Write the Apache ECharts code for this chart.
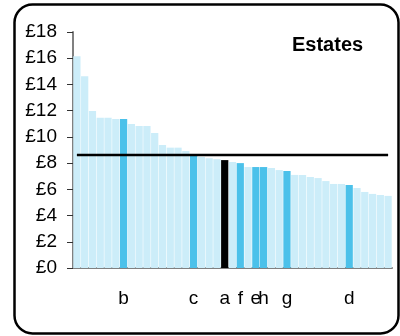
<!DOCTYPE html>
<html>
<head>
<meta charset="utf-8">
<script src="https://cdn.jsdelivr.net/npm/echarts@6/dist/echarts.min.js"></script>
<style>html,body{margin:0;padding:0;background:#fff;}#c{width:400px;height:336px;}</style>
</head>
<body>
<div id="c"></div>
<script>
// Category labels (only some bars are named)
const categories = ['', '', '', '', '', '', 'b', '', '', '', '', '', '', '', '', 'c', '', '', '', 'a', '', 'f', '', 'e', 'h', '', '', 'g', '', '', '', '', '', '', '', 'd', '', '', '', '', ''];
// Bar values (£)
const values = [16.15, 14.63, 11.97, 11.46, 11.46, 11.36, 11.36, 10.98, 10.83, 10.83, 10.29, 9.38, 9.18, 9.18, 8.92, 8.65, 8.47, 8.37, 8.30, 8.23, 8.08, 8.00, 7.70, 7.70, 7.70, 7.62, 7.47, 7.40, 7.10, 7.10, 6.94, 6.86, 6.63, 6.41, 6.41, 6.33, 6.10, 5.80, 5.65, 5.57, 5.50];
// Reference line value (£)
const average = 8.62;
const yTicks = [0, 2, 4, 6, 8, 10, 12, 14, 16, 18];
const title = 'Estates';

const chart = echarts.init(document.getElementById('c'), null, {renderer: 'canvas'});
const barData = values.map((v, i) => ({
  value: v,
  itemStyle: {color: categories[i] === 'a' ? '#000000' : (categories[i] ? '#4BC1EA' : '#CCEDF9')}
}));
chart.setOption({
  animation: false,
  title: {
    text: title, left: 287, top: 30,
    textStyle: {fontFamily: 'Liberation Sans', fontWeight: 'bold', fontSize: 20, color: '#000'}
  },
  grid: {left: 73, right: 8, top: 32, bottom: 68},
  xAxis: {
    type: 'category', data: categories,
    axisLine: {lineStyle: {color: '#808080', width: 2}},
    axisTick: {show: false},
    axisLabel: {interval: 0, margin: 21, color: '#000', fontFamily: 'Liberation Sans', fontSize: 19, hideOverlap: false}
  },
  yAxis: {
    type: 'value', min: yTicks[0], max: yTicks[yTicks.length - 1], interval: 2,
    splitLine: {show: false},
    axisLine: {show: true, lineStyle: {color: '#808080', width: 2}},
    axisTick: {show: true, length: 6, lineStyle: {color: '#333', width: 1}},
    axisLabel: {margin: 16, color: '#000', fontFamily: 'Liberation Sans', fontSize: 19, formatter: v => '£' + v}
  },
  series: [
    {type: 'bar', data: barData, barCategoryGap: '7%'},
    {type: 'line', data: values.map(() => average), symbol: 'none', lineStyle: {color: '#000', width: 2.5}, z: 5}
  ],
  graphic: [{
    type: 'rect', shape: {x: 14.5, y: 4.5, width: 384, height: 329, r: 18},
    style: {fill: 'none', stroke: '#000', lineWidth: 2.5}, z: 100
  }]
});
</script>
</body>
</html>
